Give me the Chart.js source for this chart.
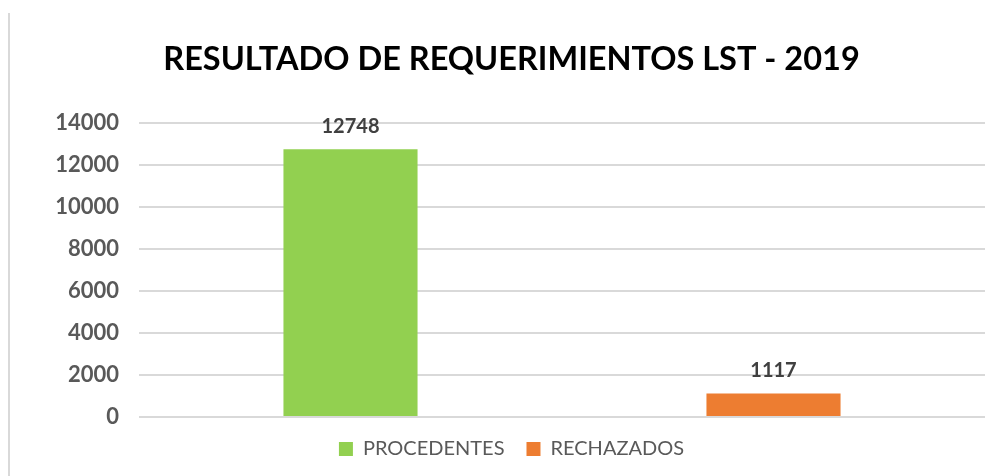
<!DOCTYPE html>
<html>
<head>
<meta charset="utf-8">
<script src="https://cdn.jsdelivr.net/npm/chart.js@4/dist/chart.umd.min.js"></script>
<style>
  html, body { margin: 0; padding: 0; background: #fff; }
  #wrap { position: relative; width: 996px; height: 476px; }
  #edge { position: absolute; left: 8px; top: 13px; width: 2px; height: 463px; background: #d9d9d9; }
  canvas { position: absolute; left: 0; top: 0; }
</style>
</head>
<body>
<div id="wrap">
  <div id="edge"></div>
  <canvas id="chart" width="996" height="476"></canvas>
</div>
<script>
const categories = [''];
const seriesNames = ['PROCEDENTES', 'RECHAZADOS'];
const procedentes = [12748];
const rechazados = [1117];
const seriesColors = ['#92D050', '#ED7D31'];
const yTicks = [0, 2000, 4000, 6000, 8000, 10000, 12000, 14000];

const FONT = 'Lato, "Open Sans", sans-serif';

// draws the value on top of each bar
const barValues = {
  id: 'barValues',
  afterDatasetsDraw(chart) {
    const ctx = chart.ctx;
    ctx.save();
    ctx.font = 'bold 20px ' + FONT;
    ctx.fillStyle = '#404040';
    ctx.textAlign = 'center';
    ctx.textBaseline = 'bottom';
    chart.data.datasets.forEach((ds, i) => {
      chart.getDatasetMeta(i).data.forEach((bar, j) => {
        ctx.fillText(String(ds.data[j]), bar.x, bar.y - 13);
      });
    });
    ctx.restore();
  }
};

new Chart(document.getElementById('chart'), {
  type: 'bar',
  data: {
    labels: categories,
    datasets: [
      { label: seriesNames[0], data: procedentes, backgroundColor: seriesColors[0] },
      { label: seriesNames[1], data: rechazados, backgroundColor: seriesColors[1] }
    ]
  },
  options: {
    responsive: false,
    animation: false,
    layout: { padding: { left: 38, right: 11, top: 0, bottom: 7 } },
    datasets: { bar: { categoryPercentage: 1, barPercentage: 0.317 } },
    scales: {
      x: {
        ticks: { display: false },
        grid: { display: false },
        border: { display: false },
        afterFit: (s) => { s.height = 0; }
      },
      y: {
        min: yTicks[0],
        max: yTicks[yTicks.length - 1],
        afterBuildTicks: (s) => { s.ticks = yTicks.map(v => ({ value: v })); },
        ticks: {
          padding: 20,
          color: '#595959',
          font: { family: FONT, size: 22, weight: 'bold' },
          callback: (v) => String(v)
        },
        grid: { color: '#d9d9d9', lineWidth: 2, drawTicks: false },
        border: { display: false },
        afterFit: (s) => { s.width = 101; }
      }
    },
    plugins: {
      title: {
        display: true,
        text: 'RESULTADO DE REQUERIMIENTOS LST - 2019',
        color: '#000',
        font: { family: FONT, size: 32.5, weight: 'bold' },
        padding: { top: 40, bottom: 44 }
      },
      legend: {
        position: 'bottom',
        labels: {
          boxWidth: 14,
          boxHeight: 14,
          padding: 22,
          color: '#595959',
          font: { family: FONT, size: 20 }
        }
      },
      tooltip: { enabled: false }
    }
  },
  plugins: [barValues]
});
</script>
</body>
</html>
